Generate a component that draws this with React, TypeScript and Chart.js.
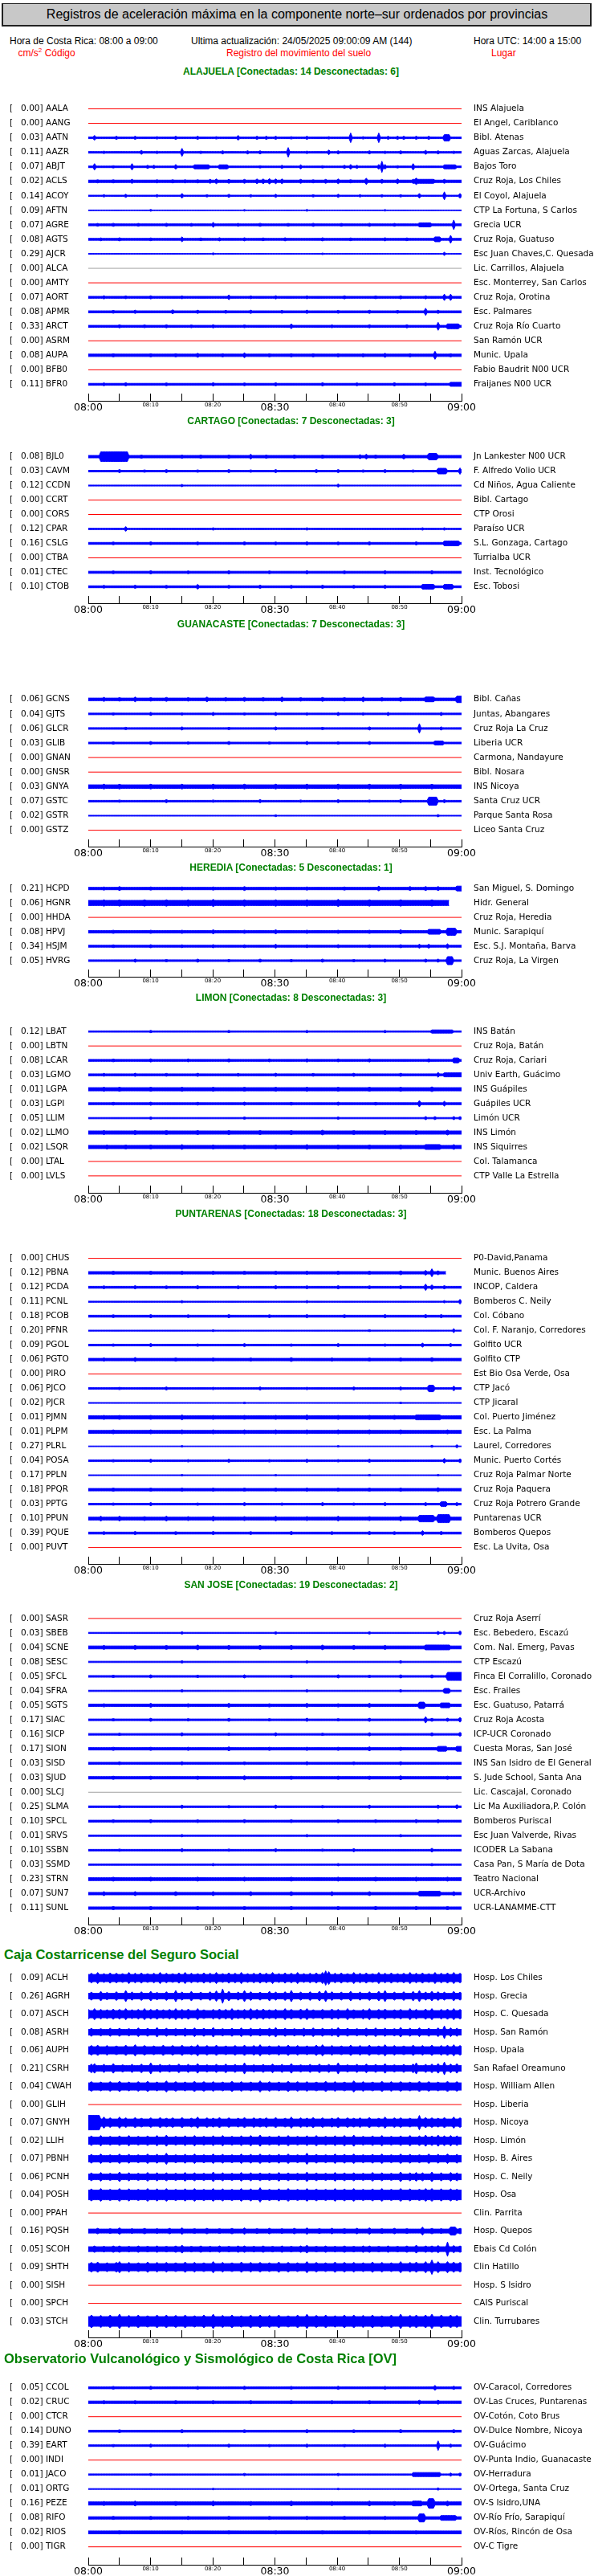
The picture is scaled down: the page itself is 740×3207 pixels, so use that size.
import React, { useEffect, useRef } from "react";
import { Chart, registerables } from "chart.js";
Chart.register(...registerables);

const NB = 240; // quarter-minute bins over 08:00-09:00 (events below are given in half-minute units)
const BLUE = "#0000ff";
const RED = "#ff0000";
const GRAY = "#a0a0a0";

// ---- x axis ----
const xTickValues = [0, 5, 10, 15, 20, 25, 30, 35, 40, 45, 50, 55, 60];
const xTickLabels = ["08:00", "", "08:10", "", "08:20", "", "08:30", "", "08:40", "", "08:50", "", "09:00"];

// ---- ALAJUELA ----
const alaCodes = ["AALA","AANG","AATN","AAZR","ABJT","ACLS","ACOY","AFTN","AGRE","AGTS","AJCR","ALCA","AMTY","AORT","APMR","ARCT","ASRM","AUPA","BFB0","BFR0"];
const alaPeaks = [0.00,0.00,0.03,0.11,0.07,0.02,0.14,0.09,0.07,0.08,0.29,0.00,0.00,0.07,0.08,0.33,0.00,0.08,0.00,0.11];
const alaPlaces = ["INS Alajuela","El Angel, Cariblanco","Bibl. Atenas","Aguas Zarcas, Alajuela","Bajos Toro","Cruz Roja, Los Chiles","El Coyol, Alajuela","CTP La Fortuna, S Carlos","Grecia UCR","Cruz Roja, Guatuso","Esc Juan Chaves,C. Quesada","Lic. Carrillos, Alajuela","Esc. Monterrey, San Carlos","Cruz Roja, Orotina","Esc. Palmares","Cruz Roja Río Cuarto","San Ramón UCR","Munic. Upala","Fabio Baudrit N00 UCR","Fraijanes N00 UCR"];
const alaTraces = [
  "R","R",
  "1 2:3 9:2 15:2 22:1.5 28:2 35:2 41:1.5 48:3 54:2 57:2 60:2 65:1.5 70:2 77:1.5 84:6 88:1.5 93:6 96:2 99:2 101:2 105:2 109:2 114-115:4",
  "1 5:1.5 17:2.5 22:1.5 30:5 36:1.5 43:2 51:2 55:2 64:6 70:1.5 77:3 80:2 90:2 95:1.5 100:2 108:2.5 112:2 117:1.5",
  "1 2:4 8:1.5 14:4 19:2 21:2 28:3 34-38:2.5 42-44:2.5 55:1.5 62:2 68:2.5 75:1.5 82:2 84:3 86:2 93:3 94:7 95:3 99:1.5 104:4 114-117:2.5",
  "1.5 3:2 8:2 14:2.5 22:2 27:2 31:2 35:2 39:2.5 41:3 45:2.5 50:2.5 54:3 56:3 58:3.5 60:3 62:3 68:2.5 72:2 76:2.5 80:3 84:2 89:4 94:2.5 99:3 104-110:2.5 105:4 114:2.5",
  "0.8 5:1.5 12:2 22:1.5 30:3 38:1.5 45:2 52:1.5 60:2 72:1.5 80:2 87:1.5 94:1.5 100:1.5 106:3 114:5 119:3",
  "0.4 20:1.2 50:1 70:1.2 95:1",
  "1.2 3:1.8 8:2 16:1.8 25:2 33:1.8 40:3 48:1.8 55:2 64:1.8 72:2 81:1.8 90:2 98:1.8 106-109:2.5 117:6",
  "1.2 4:1.8 10:2 20:1.8 30:3 36:1.8 42:2 50:2 56:1.8 63:2 75:2 84:1.8 95:2 102:1.8 111-112:3 116:5",
  "0.4 40:1.2 75:1 114:2",
  "G","R",
  "1.2 5:2 12:1.8 20:2 30:1.8 45:3 52:1.8 60:2 70:1.8 82:2 92:1.8 100:2 108:2 114:4 116:4",
  "1.2 8:1.8 15:2 27:2.5 35:2 44:1.8 52:2 62:1.8 70:2 80:1.8 90:2 99:1.8 108:4.5 112:2",
  "1.2 10:2 18:1.8 25:2 33:1.8 40:2 50:1.8 65:3 78:1.8 90:2 102:2 112:5 115-118:3",
  "R",
  "1.5 8:2 20:2 28:2 35:2.5 43:2 50:3 58:2 65:2 72:2 80:2 88:2 95:2.5 103:2 111:5 116:2",
  "R",
  "1.2 5:1.8 12:2 25:1.8 40:2 50:1.8 60:2 75:2 86:1.8 98:2 108:1.8 116-119:2.5",
];

// ---- CARTAGO ----
const carCodes = ["BJL0","CAVM","CCDN","CCRT","CORS","CPAR","CSLG","CTBA","CTEC","CTOB"];
const carPeaks = [0.08,0.03,0.12,0.00,0.00,0.12,0.16,0.00,0.01,0.10];
const carPlaces = ["Jn Lankester N00 UCR","F. Alfredo Volio UCR","Cd Niños, Agua Caliente","Bibl. Cartago","CTP Orosi","Paraíso UCR","S.L. Gonzaga, Cartago","Turrialba UCR","Inst. Tecnológico","Esc. Tobosi"];
const carTraces = [
  "1.5 4-12:6 17:2 24:1.5 30:2 36:2 45:2 52:3 57:2 66:2 75:2 87:2.5 89:3 92:2 101:3 109-111:4",
  "1 10:2 18:1.5 25:2 35:1.5 45:2 52:1.5 60:2 73:2 80:2 88:1.5 95:2 104:1.5 112-114:3.5 119:4",
  "0.6 30:1.5 80:2",
  "R","R",
  "0.8 12:3 40:1.5 70:1.5 107:1.5 114:1.5",
  "1.2 8:1.8 20:2 35:1.8 50:2 60:1.8 70:2 80:1.8 90:2 105:2 114-118:3",
  "R",
  "1.3 8:1.8 20:2 32:1.8 45:2 58:1.8 70:2 82:1.8 95:2 110:2",
  "1.2 5:1.8 15:2 25:1.8 35:3 45:1.8 55:2 65:1.8 75:2 85:1.8 95:2 107-110:3 114-116:3",
];

// ---- GUANACASTE ----
const guaCodes = ["GCNS","GJTS","GLCR","GLIB","GNAN","GNSR","GNYA","GSTC","GSTR","GSTZ"];
const guaPeaks = [0.06,0.04,0.06,0.03,0.00,0.00,0.03,0.07,0.02,0.00];
const guaPlaces = ["Bibl. Cañas","Juntas, Abangares","Cruz Roja La Cruz","Liberia UCR","Carmona, Nandayure","Bibl. Nosara","INS Nicoya","Santa Cruz UCR","Parque Santa Rosa","Liceo Santa Cruz"];
const guaTraces = [
  "1.6 5:2.5 10:2.2 15:3 20:2.2 25:2.5 32:2.2 38:3 44:2.2 50:2.5 56:2.2 62:3 68:2.2 75:2.5 82:2.2 88:3 94:2.2 100:2.5 108-110:3 118-119:4",
  "1 8:1.5 20:2 30:1.5 40:2 50:1.5 60:2 70:1.5 80:2 88:1.5 96:2 113:2",
  "1 12:1.5 30:2 45:1.5 60:2 75:1.5 90:2 106:6 113:2",
  "1 8:1.5 20:2 32:1.5 45:2 58:1.5 70:2 80:1.5 90:2 111-113:2.5",
  "R","R",
  "2.2 5:3 10:3 20:3 30:3 40:3 50:3 60:3 70:3 80:3 90:3 100:3 110:3",
  "1 10:1.5 25:2 40:1.5 55:2 68:1.5 80:2 90:1.5 100:2 109-111:5 114:2",
  "0.5 60:1.2 112:1.5",
  "R",
];

// ---- HEREDIA ----
const herCodes = ["HCPD","HGNR","HHDA","HPVJ","HSJM","HVRG"];
const herPeaks = [0.21,0.06,0.00,0.08,0.34,0.05];
const herPlaces = ["San Miguel, S. Domingo","Hidr. General","Cruz Roja, Heredia","Munic. Sarapiquí","Esc. S.J. Montaña, Barva","Cruz Roja, La Virgen"];
const herTraces = [
  "1.5 5:2 10:2.5 20:2 30:2 40:2 50:2.5 60:2 70:2 82:2 93:3 103:2.5 108:2.5 112:2.5 118-119:3",
  "3.2 5:4 10:4 18:4 25:4 32:4 40:4.5 50:4 60:4 70:4 80:4.5 90:4 100:4 110:4 end:115",
  "R",
  "1.5 8:2 20:2 30:2 40:2.5 50:2 60:2.5 70:2 80:2 90:2 100:2.5 109-112:3 115-117:4.5",
  "1.2 8:1.8 20:2 30:1.8 40:2 50:1.8 60:2.5 70:1.8 80:2 90:1.8 100:2 106:2.5 109:2.5 115:3",
  "1 15:2 25:1.5 35:2 45:1.5 55:2 65:1.5 75:2 85:1.5 95:2 108:2 112:2 115-116:5",
];

// ---- LIMON ----
const limCodes = ["LBAT","LBTN","LCAR","LGMO","LGPA","LGPI","LLIM","LLMO","LSQR","LTAL","LVLS"];
const limPeaks = [0.12,0.00,0.08,0.03,0.01,0.03,0.05,0.02,0.02,0.00,0.00];
const limPlaces = ["INS Batán","Cruz Roja, Batán","Cruz Roja, Cariari","Univ Earth, Guácimo","INS Guápiles","Guápiles UCR","Limón UCR","INS Limón","INS Siquirres","Col. Talamanca","CTP Valle La Estrella"];
const limTraces = [
  "0.8 20:1.5 45:1.5 70:1.5 95:1.5 110-116:2",
  "R",
  "1.2 8:1.8 20:2 32:1.8 45:2 58:1.8 70:2 80:1.8 90:2 109:2 117-118:3",
  "1.2 5:1.8 15:2 25:1.8 35:2 48:1.8 60:2 72:1.8 85:2 100:2 112:3 114-119:2.5",
  "2 5:2.5 10:2.5 20:2.5 30:2.5 40:2.5 50:2.5 60:2.5 70:2.5 80:2.5 90:2.5 100:2.5 110:3",
  "1.2 8:1.8 20:2 35:1.8 50:2 65:1.8 80:2 92:1.8 106:4 114:3",
  "0.8 20:1.5 50:1.5 80:1.5 108:2 111:2 117:2 119:2",
  "2 5:2.5 15:2.5 25:2.5 35:2.5 45:2.5 55:2.5 65:2.5 75:3 85:2.5 95:2.5 105:2.5 115:3",
  "2 6:2.5 12:2.5 20:2.5 30:3 40:2.5 50:2.5 60:2.5 70:3 80:2.5 90:2.5 100:2.5 108-112:3 117:3",
  "R","R",
];

// ---- PUNTARENAS ----
const punCodes = ["CHUS","PBNA","PCDA","PCNL","PCOB","PFNR","PGOL","PGTO","PIRO","PJCO","PJCR","PJMN","PLPM","PLRL","POSA","PPLN","PPQR","PPTG","PPUN","PQUE","PUVT"];
const punPeaks = [0.00,0.12,0.12,0.11,0.18,0.20,0.09,0.06,0.00,0.06,0.02,0.01,0.01,0.27,0.04,0.17,0.18,0.03,0.10,0.39,0.00];
const punPlaces = ["P0-David,Panama","Munic. Buenos Aires","INCOP, Caldera","Bomberos C. Neily","Col. Cóbano","Col. F. Naranjo, Corredores","Golfito UCR","Golfito CTP","Est Bio Osa Verde, Osa","CTP Jacó","CTP Jicaral","Col. Puerto Jiménez","Esc. La Palma","Laurel, Corredores","Munic. Puerto Cortés","Cruz Roja Palmar Norte","Cruz Roja Paquera","Cruz Roja Potrero Grande","Puntarenas UCR","Bomberos Quepos","Esc. La Uvita, Osa"];
const punTraces = [
  "R",
  "1.5 8:2 20:2 30:2 40:2 50:2 60:2 70:2 80:2 90:2 100:2.5 108:3 110:5 112:2.5 end:114",
  "1.2 5:1.8 15:2 25:1.8 35:2 48:1.8 60:2 70:1.8 80:2 90:1.8 100:2 108:4 110:3 114:2",
  "0.7 30:1.5 70:1.5 114:1.5 119:3",
  "1.2 8:1.8 20:2 32:1.8 45:2 58:1.8 70:2 82:1.8 95:2 108:2 113:2",
  "0.6 40:1.2 90:1.2 117:2.5",
  "1 8:1.5 20:2 35:1.5 50:2 65:1.5 80:2 95:1.5 107:2.5 116:2",
  "1.5 5:2 15:2.5 28:2 40:2 52:2 65:2.5 78:2 90:2 100:2 110:2.5",
  "R",
  "1 10:1.5 25:2 40:1.5 55:2 70:1.5 85:2 100:2 109-110:4 117:3",
  "0.5 50:1 100:1",
  "2 5:2.5 10:2.5 20:2.5 30:3 40:2.5 50:2.5 60:2.5 70:3 80:2.5 90:2.5 98:2.5 105-112:3",
  "1.8 8:2.5 20:2.5 30:2.5 40:2.5 50:2.5 60:2.5 70:2.5 80:2.5 90:2.5 100:2.5 115:2.5",
  "0.4 30:1 80:1 110:1.5 118:2",
  "1 8:1.5 20:2 32:1.5 45:2 58:1.5 70:2 80:1.5 90:2 114:3 119:2.5",
  "0.5 30:1 60:1 90:1 112:1",
  "1.5 8:2 20:2 30:2 40:2 50:2 60:2 70:2 80:2 90:2 100:2 112:2.5",
  "1 8:1.5 20:2 35:1.5 50:2 62:1.5 75:2 85:1.5 95:2 108:2 113-114:3 118:2",
  "1.8 4:3 10:3 18:2.5 25:3 32:2.5 40:3 50:2.5 60:3 70:2.5 80:3 90:2.5 100:3 106-110:4 112-115:5",
  "1.2 5:1.8 15:2 28:1.8 40:2 52:1.8 65:2 78:1.8 90:2 98:1.8 107:3 113:2",
  "R",
];

// ---- SAN JOSE ----
const sjoCodes = ["SASR","SBEB","SCNE","SESC","SFCL","SFRA","SGTS","SIAC","SICP","SION","SISD","SJUD","SLCJ","SLMA","SPCL","SRVS","SSBN","SSMD","STRN","SUN7","SUNL"];
const sjoPeaks = [0.00,0.03,0.04,0.08,0.05,0.04,0.05,0.17,0.16,0.17,0.03,0.03,0.00,0.25,0.10,0.01,0.10,0.03,0.23,0.07,0.11];
const sjoPlaces = ["Cruz Roja Aserrí","Esc. Bebedero, Escazú","Com. Nal. Emerg, Pavas","CTP Escazú","Finca El Corralillo, Coronado","Esc. Frailes","Esc. Guatuso, Patarrá","Cruz Roja Acosta","ICP-UCR Coronado","Cuesta Moras, San José","INS San Isidro de El General","S. Jude School, Santa Ana","Lic. Cascajal, Coronado","Lic Ma Auxiliadora,P. Colón","Bomberos Puriscal","Esc Juan Valverde, Rivas","ICODER La Sabana","Casa Pan, S María de Dota","Teatro Nacional","UCR-Archivo","UCR-LANAMME-CTT"];
const sjoTraces = [
  "R",
  "0.7 30:1.5 60:1.5 90:1.5 112:2 114:2 119:2.5",
  "1.8 5:2.5 15:2.5 25:2.5 35:3 45:2.5 55:2.5 65:2.5 75:3 85:2.5 95:2.5 108-115:3",
  "0.8 30:1.5 70:1.5 100:1.5",
  "1 8:1.5 20:2 35:1.5 50:2 65:1.5 80:2 90:1.5 100:2 110:2 115-119:5",
  "0.8 30:1.5 70:1.5 100:1.5 114-115:3",
  "1.5 5:2 20:2.5 32:2 45:2.5 58:2 70:2.5 80:2 90:2.5 106-107:4 113-115:3",
  "1 8:1.5 20:2 32:1.5 45:2 58:1.5 70:2 80:1.5 90:2 108:4 110:2 115:2 119:3",
  "1 10:1.5 30:2 45:1.5 60:2 75:1.5 90:2 110:2 119:2.5",
  "1.5 8:2 20:2 32:2 45:2.5 58:2 70:2 80:2 90:2.5 100:2 112-114:3 118-119:3",
  "1.2 10:1.8 30:2 50:1.8 70:2 85:1.8 100:2",
  "1.5 8:2 20:2 35:2 50:2.5 65:2 80:2 90:2 100:2.5 115:2",
  "G",
  "1 10:1.5 30:2 45:1.5 60:2 75:1.5 90:2 112:2 118:2.5",
  "1.2 8:1.8 20:2 35:1.8 50:2 65:1.8 80:2 92:1.8 105:2 112:2",
  "0.8 30:1.5 70:1.5 100:1.5",
  "1 10:1.5 30:2 45:1.5 60:2 75:1.5 85:2 110:2.5",
  "0.8 40:1.5 80:1.5 110:1.5",
  "1.8 8:2.5 20:2.5 35:2.5 50:2.5 65:2.5 80:2.5 92:2.5 105:2.5 115:2.5",
  "1.5 5:2.5 15:2.5 28:2.5 40:2.5 52:2.5 65:2.5 78:2.5 90:2.5 106-112:3 117:2.5",
  "1.5 8:2 20:2 35:2 50:2 65:2 80:2 92:2 105:2 115:2",
];

// ---- CCSS ----
const ccsCodes = ["ACLH","AGRH","ASCH","ASRH","AUPH","CSRH","CWAH","GLIH","GNYH","LLIH","PBNH","PCNH","POSH","PPAH","PQSH","SCOH","SHTH","SISH","SPCH","STCH"];
const ccsPeaks = [0.09,0.26,0.07,0.08,0.06,0.21,0.04,0.00,0.07,0.02,0.07,0.06,0.04,0.00,0.16,0.05,0.09,0.00,0.00,0.03];
const ccsPlaces = ["Hosp. Los Chiles","Hosp. Grecia","Hosp. C. Quesada","Hosp. San Ramón","Hosp. Upala","San Rafael Oreamuno","Hosp. William Allen","Hosp. Liberia","Hosp. Nicoya","Hosp. Limón","Hosp. B. Aires","Hosp. C. Neily","Hosp. Osa","Clin. Parrita","Hosp. Quepos","Ebais Cd Colón","Clin Hatillo","Hosp. S Isidro","CAIS Puriscal","Clin. Turrubares"];
const ccsTraces = [
  "4.5 1:6 3:7 5:5.5 7:6.5 9:6 11:5.5 13:7 15:6 17:6.5 19:5.5 21:6 23:7 25:6 27:5.5 29:6.5 31:7 33:6 35:5.5 37:6.5 39:6 41:7 43:5.5 45:6.5 47:6 49:7 51:5.5 53:6 55:6.5 57:6 59:7 61:5.5 63:6.5 65:6 67:7 69:5.5 71:6 73:6.5 75:7 76:9 77:8 79:6 81:6.5 83:5.5 85:7 87:6 89:6.5 91:5.5 93:7 95:6 97:6.5 99:5.5 101:6 103:7 105:6 107:6.5 109:5.5 111:7 113:6 115:6.5 117:7 119:6",
  "3.5 1:5 4:6 6:4.5 9:5.5 12:7 14:5 17:5.5 20:6 22:4.5 25:5.5 28:7 30:5 33:6 36:5 39:5.5 41:6.5 43:9 45:6 48:5 50:7 52:5.5 55:5 58:6 60:5 63:5.5 65:7 68:5 71:5.5 74:6 76:7 78:5.5 81:5 84:6 87:5 90:5.5 93:6 95:7 98:5 101:5.5 104:6 106:7 108:5 110:6 112:5.5 114:5 117:6 119:5",
  "4.5 0:6 2:7 4:6 6:5.5 8:6.5 10:6 12:7 14:5.5 16:6 18:7 20:6 22:6.5 24:5.5 26:6 28:7 30:6 32:6.5 35:7 37:5.5 40:6 42:6.5 44:6 46:7 48:5.5 50:6 52:7 54:6 56:6.5 58:5.5 60:6 63:7 65:6 68:6.5 70:7 72:5.5 75:6 78:6.5 80:6 83:7 85:5.5 88:6 90:7 93:6 95:6.5 98:5.5 100:6 103:7 105:6 108:6.5 110:7 113:6 115:6.5 117:7 119:6",
  "3.5 1:5 4:4.5 7:5 10:5 13:4.5 16:5.5 19:5 22:6 25:5 28:4.5 31:5 34:5.5 37:5 40:6 43:4.5 46:5 49:5.5 52:5 55:4.5 58:5 60:6 63:5 66:4.5 69:5 72:5.5 75:5 78:4.5 80:6 83:5 86:4.5 89:5 92:5.5 95:5 98:4.5 100:6 103:5 106:5.5 109:5 112:5.5 114:8 116:5.5 118:5",
  "4.5 1:6 3:6.5 6:6 9:5.5 12:6.5 15:7 18:6 21:5.5 24:6.5 27:6 30:6.5 33:5.5 35:7 38:6 41:6.5 44:5.5 47:6 50:6.5 53:6 55:7 58:5.5 61:6 64:6.5 67:6 70:5.5 73:6.5 75:7 78:6 81:5.5 84:6.5 87:6 90:6.5 93:5.5 95:7 98:6 101:5.5 104:6.5 107:6 110:6.5 113:6 115:6.5 117:7 119:6",
  "3.5 1:5.5 2:6 5:5 8:6 11:4.5 14:5 17:5.5 20:7 23:5 26:4.5 29:5.5 32:5 35:6 38:4.5 41:5 44:5.5 47:5 50:7 53:4.5 56:5 59:5.5 62:5 65:6 68:4.5 71:5 74:5.5 77:5 80:7 83:4.5 86:5 89:5.5 92:5 95:6 98:4.5 101:5 104:5.5 105:7 108:5 110:5.5 112:6 114:8 116:5.5 118:6",
  "4.5 1:6 4:5.5 7:6 10:6.5 13:5.5 16:6 19:6.5 22:5.5 25:7 28:6 31:5.5 34:6.5 37:6 40:6 43:5.5 46:6.5 49:6 52:5.5 55:7 58:6 61:5.5 64:6.5 67:6 70:6 73:5.5 76:6.5 79:6 82:5.5 85:7 88:6 91:5.5 94:6.5 97:6 100:6 103:5.5 106:6.5 109:6 112:5.5 115:6.5 118:6",
  "R",
  "4.5 0-3:9 5:7 7:6 10:7 12:6 15:6.5 17:5.5 20:6 23:6.5 25:5.5 27:6 30:6.5 33:5.5 35:7 38:6 40:5.5 42:6.5 45:6 48:5.5 50:6.5 53:6 55:5.5 57:6 60:6.5 63:5.5 65:7 68:6 70:5.5 72:6.5 75:6 78:5.5 80:6.5 83:6 85:5.5 87:6 90:6.5 93:5.5 95:7 98:6 100:6 103:5.5 106:9 108:6.5 110:6 112:5.5 114:6.5 117:7 119:6",
  "4.5 1:6 4:6.5 7:5.5 10:6 13:6.5 16:5.5 19:6 22:6.5 25:7 28:5.5 31:6 34:6.5 37:5.5 40:6 43:6.5 46:5.5 49:6 52:6.5 55:7 58:5.5 61:6 64:6.5 67:5.5 70:6 73:6.5 76:5.5 79:6 82:6.5 85:7 88:5.5 91:6 94:6.5 97:5.5 100:6 103:6.5 106:6 108:7 110:6 112:7 114:6 116:6.5 118:6",
  "4 1:5.5 4:6 7:5 10:6 13:5.5 16:5 19:6 22:5.5 25:7 28:5 31:5.5 34:6 37:5 40:6 43:5.5 46:5 49:6 52:5.5 55:6 58:5 61:5.5 64:6 67:5 70:7 73:5.5 76:5 79:6 82:5.5 85:6 88:5 91:5.5 94:6 97:5 100:6 103:5.5 106:5 109:6 112:5.5 115:6 118:5.5",
  "3.5 1:5 4:5.5 7:4.5 10:6 13:5 16:4.5 19:5.5 22:5 25:5 28:4.5 31:5.5 34:5 37:4.5 40:6 43:5 46:4.5 49:5.5 52:5 55:5 58:4.5 61:5.5 64:5 67:4.5 70:6 73:5 76:4.5 79:5.5 82:5 85:5 88:4.5 91:5.5 94:5 97:4.5 100:6 103:5 105:5.5 107:5 110:6 113:5 116:5.5 118:5",
  "6 1:7.5 4:8 7:7 10:8 13:7.5 16:7 19:8 22:7.5 25:8 28:7 31:7.5 34:8 37:7 40:8 43:7.5 46:7 49:8 52:7.5 55:9 58:7 61:7.5 64:8 67:7 70:8 73:7.5 76:7 79:8 82:7.5 85:8 88:7 91:7.5 94:8 97:7 100:8 103:7.5 106:7 108:8 110:8 113:7.5 116:7.5 118:7",
  "R",
  "2.5 3:3.5 7:3 10:4 14:3 18:3.5 22:3 26:3.5 30:4 34:3 38:3.5 42:3 46:3.5 50:4 54:3 58:3.5 62:3 66:3.5 70:4 74:3 78:3.5 82:3 86:3.5 90:4 94:3 98:3.5 102:3 107:5 110:3.5 113:3 116-117:5 119:3.5",
  "3 2:4 5:3.5 8:4 10:4 13:3.5 16:4 19:3.5 22:4 25:3.5 28:4 30:5 33:3.5 36:4 39:3.5 42:4 45:3.5 48:4 50:4 53:3.5 56:4 59:3.5 62:4 65:3.5 68:4 70:5 73:3.5 76:4 79:3.5 82:4 85:3.5 88:4 90:4 93:3.5 96:4 99:3.5 102:4 105:5 108:4 110:4 112:4.5 115:9 117:4.5 119:4",
  "4.5 1:6 3:6.5 6:5.5 9:6 10:7 13:6 16:5.5 19:6.5 22:6 25:6 28:5.5 31:6.5 34:6 37:5.5 40:7 43:6 46:5.5 49:6.5 52:6 55:6 58:5.5 61:6.5 64:6 67:5.5 70:7 73:6 76:5.5 79:6.5 82:6 85:6 88:5.5 91:6.5 94:6 97:5.5 100:7 103:6 105:6.5 108:7 110:9 112:7 115:7 117:6.5 119:6",
  "R","R",
  "6 1:8 4:7.5 7:8 10:9 13:7.5 16:8 19:7 22:8 25:8 28:7.5 31:8 34:7 37:8 40:9 43:7.5 46:8 49:7 52:8 55:8 58:7.5 61:8 64:7 67:8 70:9 73:7.5 76:8 79:7 82:8 85:8 88:7.5 91:8 94:7 97:8 100:9 103:7.5 105:8 108:8 110:9 113:8 116:8 118:7.5",
];

// ---- OVSICORI ----
const ovsCodes = ["CCOL","CRUC","CTCR","DUNO","EART","INDI","JACO","ORTG","PEZE","RIFO","RIOS","TIGR"];
const ovsPeaks = [0.05,0.02,0.00,0.14,0.39,0.00,0.01,0.01,0.16,0.08,0.02,0.00];
const ovsPlaces = ["OV-Caracol, Corredores","OV-Las Cruces, Puntarenas","OV-Cotón, Coto Brus","OV-Dulce Nombre, Nicoya","OV-Guácimo","OV-Punta Indio, Guanacaste","OV-Herradura","OV-Ortega, Santa Cruz","OV-S Isidro,UNA","OV-Río Frío, Sarapiquí","OV-Ríos, Rincón de Osa","OV-C Tigre"];
const ovsTraces = [
  "1.2 8:1.8 20:2 35:1.8 50:2 65:1.8 80:2 95:1.8 111:3 117:2",
  "1.5 5:2 15:2 28:2 40:2 52:2 65:2 78:2 90:2 106:2.5 112:2.5",
  "R",
  "1.2 10:1.8 30:2 50:1.8 70:2 85:1.8 100:2 117:2",
  "1 8:1.5 20:2 32:1.5 45:2 58:1.5 70:2 82:1.5 95:2 112:6 116:2",
  "R",
  "0.8 20:1.5 50:1.5 80:1.5 104-112:2.5 116:2 119:2",
  "0.5 40:1 80:1 112:1.5",
  "2 5:2.5 15:3 28:2.5 40:3 52:2.5 65:3 78:2.5 90:3 98:2.5 104-106:3 109-110:6 115:3",
  "1.5 8:2 20:2 32:2 45:2 58:2 70:2 82:2 95:2 106-107:5 113-117:3",
  "1.8 10:2 30:2 45:2 60:2 75:2 90:2 105:2",
  "R",
];

type Sec = {
  title: string; titleY: number; big?: boolean;
  firstY: number; sp: number; axisY: number;
  codes: string[]; peaks: number[]; places: string[]; traces: string[];
};

const SECTIONS: Sec[] = [
  { title: "ALAJUELA [Conectadas: 14 Desconectadas: 6]", titleY: 89, firstY: 135.5, sp: 18.05, axisY: 498.5, codes: alaCodes, peaks: alaPeaks, places: alaPlaces, traces: alaTraces },
  { title: "CARTAGO [Conectadas: 7 Desconectadas: 3]", titleY: 524, firstY: 568.5, sp: 18.0, axisY: 750.5, codes: carCodes, peaks: carPeaks, places: carPlaces, traces: carTraces },
  { title: "GUANACASTE [Conectadas: 7 Desconectadas: 3]", titleY: 777, firstY: 870.7, sp: 18.1, axisY: 1054, codes: guaCodes, peaks: guaPeaks, places: guaPlaces, traces: guaTraces },
  { title: "HEREDIA [Conectadas: 5 Desconectadas: 1]", titleY: 1080, firstY: 1106.2, sp: 17.95, axisY: 1216, codes: herCodes, peaks: herPeaks, places: herPlaces, traces: herTraces },
  { title: "LIMON [Conectadas: 8 Desconectadas: 3]", titleY: 1242, firstY: 1284.2, sp: 17.97, axisY: 1484.7, codes: limCodes, peaks: limPeaks, places: limPlaces, traces: limTraces },
  { title: "PUNTARENAS [Conectadas: 18 Desconectadas: 3]", titleY: 1511, firstY: 1566.6, sp: 18.0, axisY: 1947.3, codes: punCodes, peaks: punPeaks, places: punPlaces, traces: punTraces },
  { title: "SAN JOSE [Conectadas: 19 Desconectadas: 2]", titleY: 1973, firstY: 2014.9, sp: 18.03, axisY: 2396, codes: sjoCodes, peaks: sjoPeaks, places: sjoPlaces, traces: sjoTraces },
  { title: "Caja Costarricense del Seguro Social", big: true, titleY: 2433, firstY: 2462.6, sp: 22.5, axisY: 2910, codes: ccsCodes, peaks: ccsPeaks, places: ccsPlaces, traces: ccsTraces },
  { title: "Observatorio Vulcanológico y Sismológico de Costa Rica [OV]", big: true, titleY: 2936, firstY: 2972.7, sp: 18.0, axisY: 3192.5, codes: ovsCodes, peaks: ovsPeaks, places: ovsPlaces, traces: ovsTraces },
];

// events are in half-minute units; each maps onto two quarter-minute bins (single events onto one)
function decode(spec: string): (number | null)[] {
  const tok = spec.trim().split(/\s+/);
  const base = parseFloat(tok[0]);
  const v: (number | null)[] = new Array(NB).fill(base);
  let end = NB - 1;
  for (const t of tok.slice(1)) {
    const [k, val] = t.split(":");
    if (k === "end") { end = parseInt(val, 10) * 2 + 1; continue; }
    const lv = parseFloat(val);
    const parts = k.split("-").map(Number);
    const a = parts[0] * 2;
    const b = parts.length > 1 ? parts[1] * 2 + 1 : a;
    for (let i = a; i <= b; i++) if (i >= 0 && i < NB) v[i] = Math.max(v[i] as number, lv);
  }
  for (let i = end + 1; i < NB; i++) v[i] = null;
  return v;
}

const LABEL_FONT = { family: "DejaVu Sans", size: 10.5 };
const XH = 24;

function Section({ s }: { s: Sec }) {
  const ref = useRef<HTMLCanvasElement | null>(null);
  const top = Math.round(s.firstY - s.sp);
  const chartH = Math.round(s.axisY - top);
  const H = chartH + XH;

  useEffect(() => {
    if (!ref.current) return;
    const yMin = -(s.firstY - top) / s.sp;
    const yMax = yMin + chartH / s.sp;
    const datasets: any[] = [];
    s.traces.forEach((spec, i) => {
      if (spec === "R" || spec === "G") {
        datasets.push({
          data: [{ x: 0, y: i }, { x: 60, y: i }],
          borderColor: spec === "R" ? RED : GRAY, borderWidth: 1, fill: false, pointRadius: 0,
        });
        return;
      }
      const amp = decode(spec);
      const xs = amp.map((_, k) => (k * 60) / (NB - 1));
      datasets.push({
        data: amp.map((a, k) => ({ x: xs[k], y: a == null ? null : i + a / s.sp })),
        borderColor: BLUE, borderWidth: 1, fill: false, pointRadius: 0,
      });
      datasets.push({
        data: amp.map((a, k) => ({ x: xs[k], y: a == null ? null : i - a / s.sp })),
        borderColor: BLUE, backgroundColor: BLUE, borderWidth: 1, fill: "-1", pointRadius: 0,
      });
    });
    const rowTicks = (sc: any) => { sc.ticks = s.codes.map((_, i) => ({ value: i })); };
    const zeroPad = (sc: any) => { sc.paddingTop = 0; sc.paddingBottom = 0; sc.paddingLeft = 0; sc.paddingRight = 0; };
    const chart = new Chart(ref.current, {
      type: "line",
      data: { datasets },
      options: {
        animation: false,
        responsive: false,
        maintainAspectRatio: false,
        events: [],
        layout: { padding: { left: 12, top: 0, right: 0, bottom: 0 } },
        plugins: { legend: { display: false }, tooltip: { enabled: false }, title: { display: false } },
        elements: { point: { radius: 0 }, line: { tension: 0 } },
        scales: {
          x: {
            type: "linear", min: 0, max: 60, position: "bottom",
            afterBuildTicks: (sc: any) => { sc.ticks = xTickValues.map((v) => ({ value: v })); },
            afterFit: (sc: any) => { sc.height = XH; zeroPad(sc); },
            grid: { display: true, drawOnChartArea: false, drawTicks: true, tickLength: -9, color: "#000", lineWidth: 1 },
            border: { display: true, color: "#000", width: 1 },
            ticks: {
              autoSkip: false, maxRotation: 0, minRotation: 0, padding: 10, color: "#000",
              font: (ctx: any) => {
                const v = ctx.tick ? ctx.tick.value : 0;
                return v % 30 === 0 ? { family: "DejaVu Sans", size: 12.5 } : { family: "DejaVu Sans", size: 7 };
              },
              callback: (v: any) => xTickLabels[Math.round(Number(v) / 5)] ?? "",
            },
          },
          y: {
            type: "linear", reverse: true, min: yMin, max: yMax, position: "left",
            afterBuildTicks: rowTicks,
            afterFit: (sc: any) => { sc.width = 98; zeroPad(sc); },
            grid: { display: false, drawTicks: false },
            border: { display: false },
            ticks: {
              autoSkip: false, crossAlign: "far", padding: 0, color: "#000", font: LABEL_FONT,
              callback: (v: any) => {
                const i = Math.round(Number(v));
                return `[   ${s.peaks[i].toFixed(2)}] ${s.codes[i]}`;
              },
            },
          },
          y2: {
            type: "linear", reverse: true, min: yMin, max: yMax, position: "right",
            afterBuildTicks: rowTicks,
            afterFit: (sc: any) => { sc.width = 165; zeroPad(sc); },
            grid: { display: false, drawTicks: false },
            border: { display: false },
            ticks: {
              autoSkip: false, padding: 15, color: "#000", font: LABEL_FONT,
              callback: (v: any) => s.places[Math.round(Number(v))],
            },
          },
        },
      } as any,
    });
    return () => chart.destroy();
  }, []);

  return (
    <>
      {s.big ? (
        <div style={{ position: "absolute", left: 5, top: s.titleY - 10, lineHeight: "20px", fontSize: 16.5, fontWeight: "bold", color: "#008000", whiteSpace: "nowrap", fontFamily: '"Liberation Sans", Arial, sans-serif' }}>{s.title}</div>
      ) : (
        <div style={{ position: "absolute", left: 0, width: 725, top: s.titleY - 7, lineHeight: "14px", fontSize: 12, fontWeight: "bold", color: "#008000", textAlign: "center", whiteSpace: "nowrap", fontFamily: '"Liberation Sans", Arial, sans-serif' }}>{s.title}</div>
      )}
      <canvas ref={ref} width={740} height={H} style={{ position: "absolute", left: 0, top, width: 740, height: H, display: "block" }} />
    </>
  );
}

export default function App() {
  const txt = (left: number, y: number, text: React.ReactNode, color = "#000") => (
    <div style={{ position: "absolute", left, top: y - 7, lineHeight: "14px", fontSize: 12, color, whiteSpace: "nowrap" }}>{text}</div>
  );
  return (
    <div style={{ position: "absolute", left: 0, top: 0, width: 740, height: 3207, background: "#fff", fontFamily: '"Liberation Sans", Arial, sans-serif', overflow: "hidden" }}>
      <div style={{ position: "absolute", left: 2, top: 4, width: 731, height: 26, background: "#c8c8c8", borderStyle: "solid", borderColor: "#222", borderWidth: "1px 2px 2px 2px" }} />
      <div style={{ position: "absolute", left: 0, top: 8, width: 740, textAlign: "center", fontSize: 16, lineHeight: "20px", color: "#000", whiteSpace: "nowrap" }}>
        Registros de aceleración máxima en la componente norte–sur ordenados por provincias
      </div>
      {txt(12, 50.7, "Hora de Costa Rica: 08:00 a 09:00")}
      {txt(238, 50.7, "Ultima actualización: 24/05/2025 09:00:09 AM (144)")}
      {txt(590, 50.7, "Hora UTC: 14:00 a 15:00")}
      {txt(22.5, 65.7, <span>cm/s<sup style={{ fontSize: 8, lineHeight: 0 }}>2</sup> Código</span>, RED)}
      {txt(282, 65.7, "Registro del movimiento del suelo", RED)}
      {txt(612, 65.7, "Lugar", RED)}
      {SECTIONS.map((s, i) => <Section key={i} s={s} />)}
    </div>
  );
}
